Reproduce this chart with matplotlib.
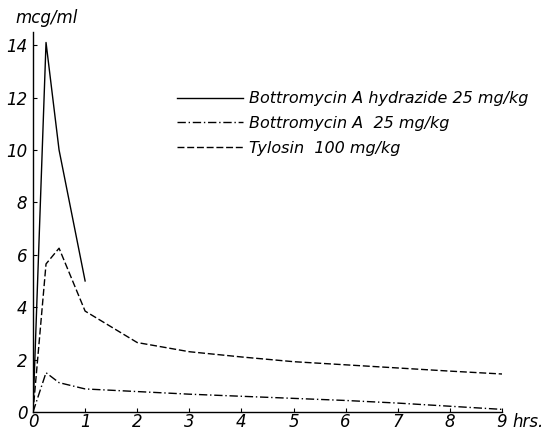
import matplotlib.pyplot as plt

# time points (hrs) and serum levels (mcg/ml)
t_hydrazide = [0, 0.25, 0.5, 1]
v_hydrazide = [0, 14.1, 10.0, 5.0]

t_bottro = [0, 0.25, 0.5, 1, 2, 3, 4, 5, 6, 7, 8, 9]
v_bottro = [0, 1.5, 1.12, 0.88, 0.78, 0.68, 0.6, 0.52, 0.44, 0.34, 0.22, 0.1]

t_tylosin = [0, 0.25, 0.5, 1, 2, 3, 4, 5, 6, 7, 8, 9]
v_tylosin = [0, 5.65, 6.25, 3.85, 2.65, 2.3, 2.1, 1.92, 1.8, 1.68, 1.56, 1.45]

labels = ["Bottromycin A hydrazide 25 mg/kg",
          "Bottromycin A  25 mg/kg",
          "Tylosin  100 mg/kg"]
xticks = list(range(10))
yticks = [0, 2, 4, 6, 8, 10, 12, 14]

plt.rcParams['font.family'] = 'DejaVu Sans'
fig = plt.figure(figsize=(5.52, 4.34), dpi=100)
ax = fig.add_axes([33/552, 1 - 412/434, (502 - 33)/552, (412 - 32)/434])

ax.plot(t_hydrazide, v_hydrazide, color='black', lw=1.0, ls='-', label=labels[0])
ax.plot(t_bottro, v_bottro, color='black', lw=1.0, ls=(0, (6, 2, 1, 2)), label=labels[1])
ax.plot(t_tylosin, v_tylosin, color='black', lw=1.0, ls=(0, (5, 2)), label=labels[2])

ax.set_xlim(0, 9)
ax.set_ylim(0, 14.5)
ax.set_xticks(xticks)
ax.set_yticks(yticks)
ax.set_xticklabels([str(x) for x in xticks], fontstyle='italic', fontsize=12)
ax.set_yticklabels([str(y) for y in yticks], fontstyle='italic', fontsize=12)
ax.tick_params(direction='in', length=3, width=0.8)
ax.tick_params(axis='x', pad=1)
ax.tick_params(axis='y', pad=4)
for s in ['top', 'right']:
    ax.spines[s].set_visible(False)
for s in ['left', 'bottom']:
    ax.spines[s].set_linewidth(1.0)

fig.text(15/552, 1 - 18/434, "mcg/ml", fontstyle='italic', fontsize=12, va='center', ha='left')
fig.text(512/552, 1 - 422/434, "hrs.", fontstyle='italic', fontsize=12, va='center', ha='left')

ax.legend(loc='upper left', bbox_to_anchor=(163/552, 1 - 77/434),
          bbox_transform=fig.transFigure, frameon=False,
          prop={'style': 'italic', 'size': 11.5}, handlelength=4.1,
          handletextpad=0.4, labelspacing=0.6)

plt.savefig('out.png', dpi=100)
